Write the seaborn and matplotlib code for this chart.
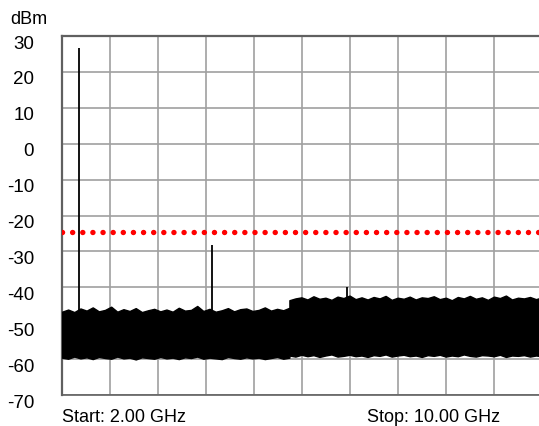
import numpy as np
import pandas as pd
import matplotlib
matplotlib.use("Agg")
import matplotlib.pyplot as plt
import matplotlib.transforms as mtransforms
import seaborn as sns

# ---------------- data ----------------
# noise floor envelope (dBm), lower band 2.00-5.79 GHz, upper band 5.79-10.00 GHz
top1 = [-46.8, -46.2, -46.9, -45.9, -46.5, -45.6, -46.7, -46.3, -45.4, -46.8,
        -46.1, -46.6, -45.8, -46.9, -46.4, -46.0, -46.7, -46.2, -46.8, -45.7,
        -46.5, -46.3, -45.2, -46.6, -46.0, -46.8, -46.4, -45.8, -46.7, -46.1,
        -45.9, -46.6, -46.3, -45.6, -46.5, -46.0, -46.4, -45.7]
bot1 = [-59.6, -59.9, -59.3, -59.8, -59.5, -60.0, -59.4, -59.7, -59.9, -59.3,
        -59.8, -59.6, -60.1, -59.5, -59.7, -59.9, -59.4, -59.8, -59.6, -60.0,
        -59.5, -59.7, -59.3, -59.9, -59.6, -59.8, -60.0, -59.4, -59.7, -59.9,
        -59.5, -59.8, -59.6, -60.0, -59.7, -59.4, -59.9, -59.6]
top2 = [-43.6, -43.1, -42.8, -43.4, -42.5, -43.2, -42.9, -43.5, -42.6, -43.0,
        -42.3, -43.3, -42.8, -43.4, -42.7, -43.1, -42.4, -43.5, -42.9, -43.2,
        -42.6, -43.4, -42.8, -43.0, -42.5, -43.3, -42.9, -43.6, -42.7, -43.1,
        -42.4, -43.2, -42.8, -43.5, -42.6, -43.0, -42.3, -43.4, -42.9, -43.1,
        -42.7, -43.3, -42.8]
bot2 = [-59.0, -59.3, -58.8, -59.2, -58.9, -59.4, -59.0, -58.7, -59.3, -59.1,
        -58.8, -59.2, -59.0, -59.4, -58.9, -59.1, -58.7, -59.3, -59.0, -58.8,
        -59.2, -59.0, -59.4, -58.9, -59.1, -58.8, -59.3, -59.0, -59.2, -58.7,
        -59.1, -59.3, -58.9, -59.0, -59.2, -58.8, -59.4, -59.0, -59.1, -58.9,
        -59.3, -59.0, -59.2]
band_edges = [2.0, 5.79, 10.0]

# discrete spurs
spike_freq = [2.278, 4.505, 6.75]
spike_peak = [26.6, -28.2, -39.8]

limit_line = -24.5
yticks = [30, 20, 10, 0, -10, -20, -30, -40, -50, -60, -70]

# ---------------- plotting ----------------
sns.set_style("white")
plt.rcParams['font.family'] = ['Liberation Sans', 'DejaVu Sans']
plt.rcParams['text.color'] = 'black'
plt.rcParams['ytick.color'] = 'black'
plt.rcParams['ytick.labelcolor'] = 'black'

fig = plt.figure(figsize=(5.39, 4.26), dpi=100)
ax = fig.add_axes([62 / 539, 31 / 426, 480 / 539, 359 / 426])

f1 = np.linspace(band_edges[0], band_edges[1], len(top1))
f2 = np.linspace(band_edges[1], band_edges[2], len(top2))
noise = pd.DataFrame({
    "freq": np.concatenate([f1, f2]),
    "top": top1 + top2,
    "bot": bot1 + bot2,
})
ax.fill_between(noise["freq"], noise["bot"], noise["top"],
                color="black", lw=1.0, zorder=3)

ax.vlines(spike_freq, -59, spike_peak, color="black", lw=1.3, zorder=3)

ax.axhline(limit_line, color="#ff0000", lw=3.9, linestyle=(0, (0.01, 1.86)),
           dash_capstyle="round", zorder=4)

ax.set_xlim(2.0, 10.0)
ax.set_ylim(-70, 30)
ax.set_xticks(np.linspace(2.0, 10.0, 11))
ax.set_yticks(yticks)
ax.set_xticklabels([])
ax.set_yticklabels([str(v) for v in yticks], fontsize=13.5, color="black")
ax.tick_params(axis="both", length=0)
ax.tick_params(axis="y", pad=20)
# labels sit a little below their grid lines in the reference
shift = mtransforms.ScaledTranslation(0, -6 / 100, fig.dpi_scale_trans)
for lab in ax.get_yticklabels():
    lab.set_transform(lab.get_transform() + shift)
ax.grid(True, color="#a0a0a0", lw=1.2)
ax.set_axisbelow(True)
for side in ["left", "top"]:
    ax.spines[side].set_color("#606060")
    ax.spines[side].set_linewidth(1.6)
ax.spines["bottom"].set_color("#606060")
ax.spines["bottom"].set_linewidth(1.2)
ax.spines["right"].set_visible(False)

fig.text(10 / 539, 1 - 19 / 426, "dBm", fontsize=13, va="center", ha="left", color="black")
fig.text(62 / 539, 1 - 417 / 426, "Start: 2.00 GHz", fontsize=13, va="center", ha="left", color="black")
fig.text(500 / 539, 1 - 417 / 426, "Stop: 10.00 GHz", fontsize=13, va="center", ha="right", color="black")

fig.savefig("out.png", dpi=100)
